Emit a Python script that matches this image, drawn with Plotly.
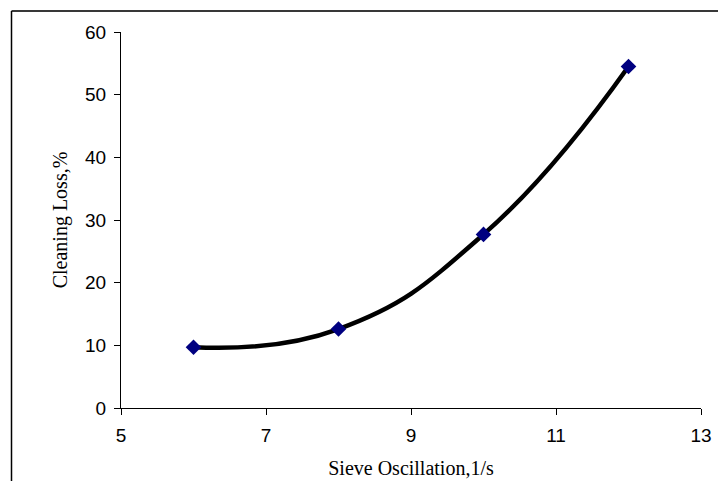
import plotly.graph_objects as go

sieve_oscillation = [6, 8, 10, 12]
cleaning_loss = [9.7, 12.6, 27.7, 54.5]
x_ticks = [5, 7, 9, 11, 13]
y_ticks = [0, 10, 20, 30, 40, 50, 60]

fig = go.Figure()
fig.add_trace(go.Scatter(
    x=sieve_oscillation, y=cleaning_loss,
    mode="lines+markers",
    line=dict(color="black", width=4.5, shape="spline", smoothing=1.3),
    marker=dict(symbol="diamond", size=12, color="#000080"),
    showlegend=False,
))

L, R, T, B = 121, 17, 32, 73
W, H = 718, 481
pw, ph = W - L - R, H - T - B
def px(x):
    return (x - L) / pw
def py(y):
    return (H - B - y) / ph

fig.update_layout(
    width=W, height=H,
    margin=dict(l=L, r=R, t=T, b=B, autoexpand=False),
    paper_bgcolor="white", plot_bgcolor="white",
    font=dict(family="Liberation Sans, Arial", size=19, color="black"),
    xaxis=dict(range=[5, 13], tickvals=x_ticks, showgrid=False, zeroline=False,
               showline=True, linecolor="black", linewidth=1, automargin=False,
               ticks="outside", ticklen=6, tickcolor="black",
               tickfont=dict(size=19), ticklabelstandoff=4,
               title=dict(text="Sieve Oscillation,1/s",
                          font=dict(family="Liberation Serif, Times New Roman", size=20),
                          standoff=16)),
    yaxis=dict(range=[0, 60], tickvals=y_ticks, showgrid=False, zeroline=False,
               showline=True, linecolor="black", linewidth=1, automargin=False,
               ticks="outside", ticklen=6, tickcolor="black",
               tickfont=dict(size=19), ticklabelstandoff=4,
               title=dict(text="Cleaning Loss,%",
                          font=dict(family="Liberation Serif, Times New Roman", size=20),
                          standoff=12)),
    shapes=[
        dict(type="line", xref="paper", yref="paper",
             x0=px(11.5), x1=px(730), y0=py(11), y1=py(11),
             line=dict(color="#383838", width=2)),
        dict(type="line", xref="paper", yref="paper",
             x0=px(11.5), x1=px(11.5), y0=py(11), y1=py(495),
             line=dict(color="black", width=1.5)),
    ],
)

fig.write_html("out.html", config={"displayModeBar": False})
with open("out.html", "r", encoding="utf-8") as f:
    html = f.read()
html = html.replace("<head>", "<head><style>html,body{margin:0;padding:0;overflow:hidden;}</style>", 1)
with open("out.html", "w", encoding="utf-8") as f:
    f.write(html)
